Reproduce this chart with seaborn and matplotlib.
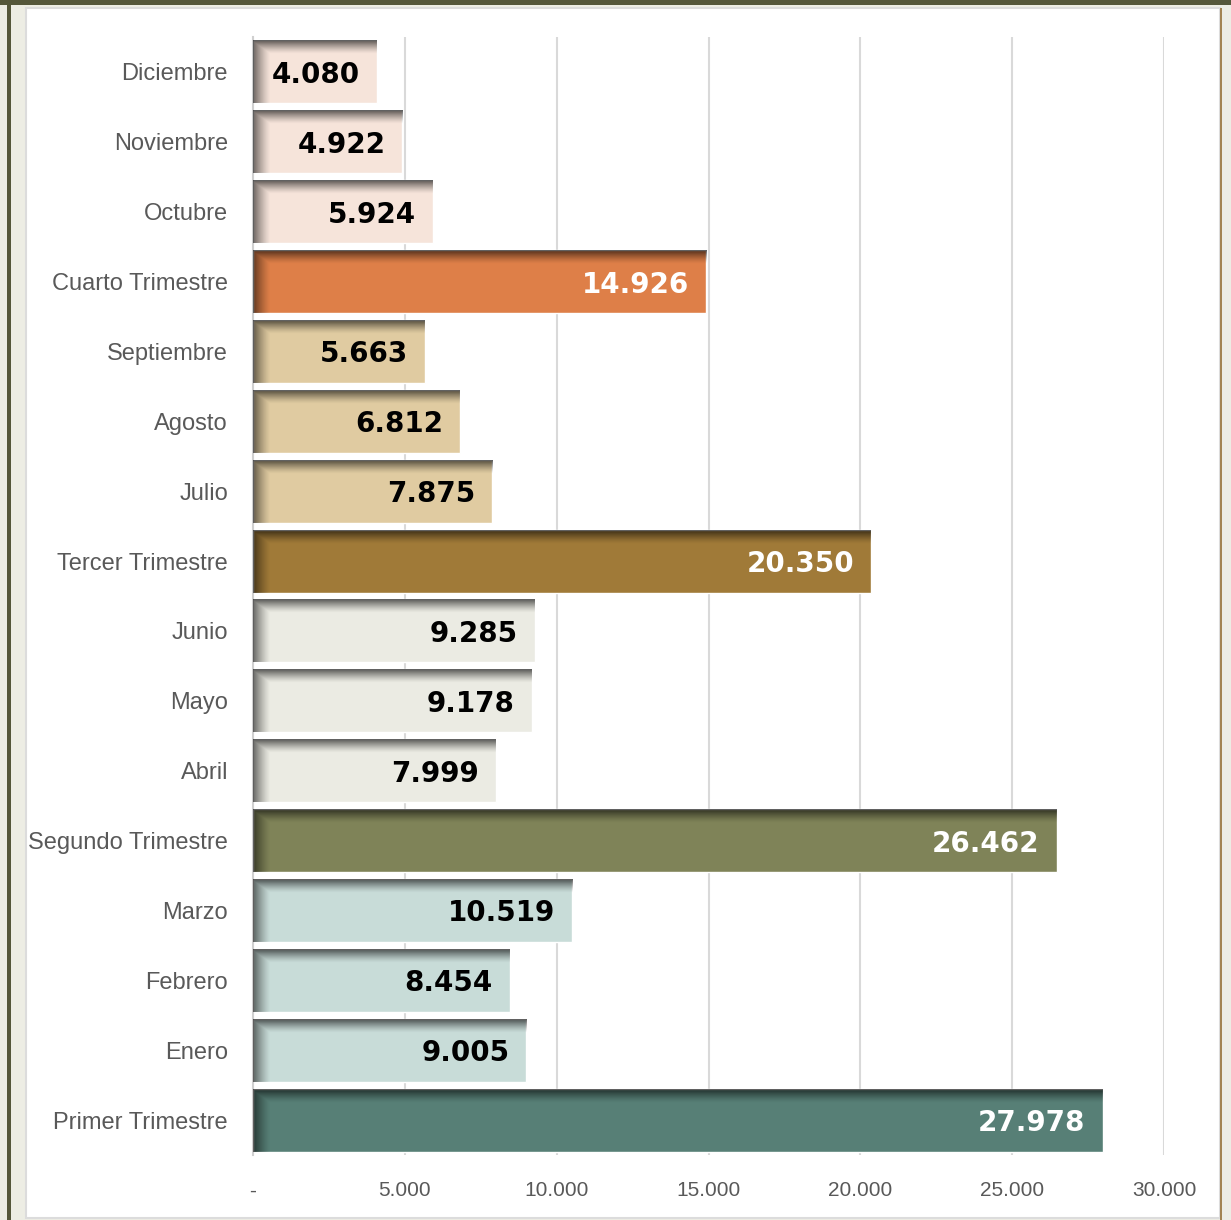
import numpy as np
import pandas as pd
import seaborn as sns
import matplotlib.pyplot as plt
from matplotlib.patches import Rectangle
from matplotlib.ticker import FuncFormatter

# datos (de arriba hacia abajo)
categorias = ['Diciembre', 'Noviembre', 'Octubre', 'Cuarto Trimestre',
              'Septiembre', 'Agosto', 'Julio', 'Tercer Trimestre',
              'Junio', 'Mayo', 'Abril', 'Segundo Trimestre',
              'Marzo', 'Febrero', 'Enero', 'Primer Trimestre']
valores = [4080, 4922, 5924, 14926,
           5663, 6812, 7875, 20350,
           9285, 9178, 7999, 26462,
           10519, 8454, 9005, 27978]
colores = ['#F6E4DA', '#F6E4DA', '#F6E4DA', '#DE7F48',
           '#E0CBA1', '#E0CBA1', '#E0CBA1', '#A07A38',
           '#EBEBE3', '#EBEBE3', '#EBEBE3', '#7F8358',
           '#C8DCD8', '#C8DCD8', '#C8DCD8', '#577F76']
totales = ['Cuarto Trimestre', 'Tercer Trimestre', 'Segundo Trimestre', 'Primer Trimestre']
xticks = [0, 5000, 10000, 15000, 20000, 25000, 30000]

df = pd.DataFrame({'mes': categorias, 'valor': valores})

sns.set_style('white')
plt.rcParams['font.family'] = ['Liberation Sans', 'DejaVu Sans']

fig = plt.figure(figsize=(12.31, 12.2), dpi=100)
fig.patch.set_facecolor('#EDEDE4')

# marco
fig.patches.append(Rectangle((26 / 1231, 2 / 1220), 1194 / 1231, 1210 / 1220,
                             transform=fig.transFigure, facecolor='white',
                             edgecolor='#DCDCDC', lw=1.5, zorder=-3))
fig.patches.append(Rectangle((0, 1 - 5 / 1220), 1, 5 / 1220, transform=fig.transFigure,
                             facecolor='#55573A', lw=0, zorder=-2))
fig.patches.append(Rectangle((7 / 1231, 0), 4 / 1231, 1, transform=fig.transFigure,
                             facecolor='#55573A', lw=0, zorder=-2))
fig.patches.append(Rectangle((1220 / 1231, 0), 2 / 1231, 1 - 8 / 1220, transform=fig.transFigure,
                             facecolor='#A38452', lw=0, zorder=-2))

ax = fig.add_axes([253 / 1231, 1 - 1155 / 1220, 911 / 1231, 1118 / 1220])
ax.set_zorder(1)
ax.set_facecolor('none')

sns.barplot(data=df, x='valor', y='mes', hue='mes', palette=colores,
            order=categorias, hue_order=categorias, legend=False,
            width=0.9, saturation=1, orient='h', ax=ax, zorder=2)

ax.set_xlim(0, 30000)
ax.set_ylim(15.5, -0.5)
ax.set_xticks(xticks)
ax.xaxis.set_major_formatter(FuncFormatter(
    lambda v, p: '-' if v == 0 else f'{int(v):,}'.replace(',', '.')))
ax.grid(axis='x', color='#D9D9D9', lw=1.5, zorder=0)
ax.set_axisbelow(True)
for s in ['top', 'right', 'bottom']:
    ax.spines[s].set_visible(False)
ax.spines['left'].set_color('#D0D0D0')
ax.spines['left'].set_linewidth(1.5)
ax.tick_params(axis='x', length=0, pad=19, labelsize=15, labelcolor='#595959')
ax.tick_params(axis='y', length=0, pad=18, labelsize=17, labelcolor='#595959')
ax.set_xlabel('')
ax.set_ylabel('')

# sombra interior en cada barra
fig.canvas.draw()
for p in ax.patches:
    x0, y0 = p.get_x(), p.get_y()
    w, h = p.get_width(), p.get_height()
    (px0, py0), (px1, py1) = ax.transData.transform([(x0, y0), (x0 + w, y0 + h)])
    nw, nh = max(int(abs(px1 - px0)), 2), max(int(abs(py1 - py0)), 2)
    xx = np.arange(nw)[None, :]
    yy = np.arange(nh)[:, None]
    a_top = 0.62 * np.clip(1 - yy / 13.0, 0, 1) ** 1.3
    a_left = 0.55 * np.clip(1 - xx / 17.0, 0, 1) ** 1.3
    alpha = np.maximum(a_top, a_left)
    img = np.zeros((nh, nw, 4))
    img[..., 3] = alpha
    ax.imshow(img, extent=(x0, x0 + w, y0 + h, y0), origin='upper',
              aspect='auto', interpolation='bilinear', zorder=3)
ax.set_xlim(0, 30000)
ax.set_ylim(15.5, -0.5)

# etiquetas de valor
for cat, val in zip(categorias, valores):
    col = 'white' if cat in totales else 'black'
    ax.annotate(f'{val:,}'.replace(',', '.'), xy=(val, cat), xytext=(-17, -3),
                textcoords='offset pixels', ha='right', va='center',
                fontsize=20, fontweight='bold', color=col,
                family=['DejaVu Sans'], zorder=4)

fig.savefig('out.png', dpi=100, facecolor=fig.get_facecolor())
